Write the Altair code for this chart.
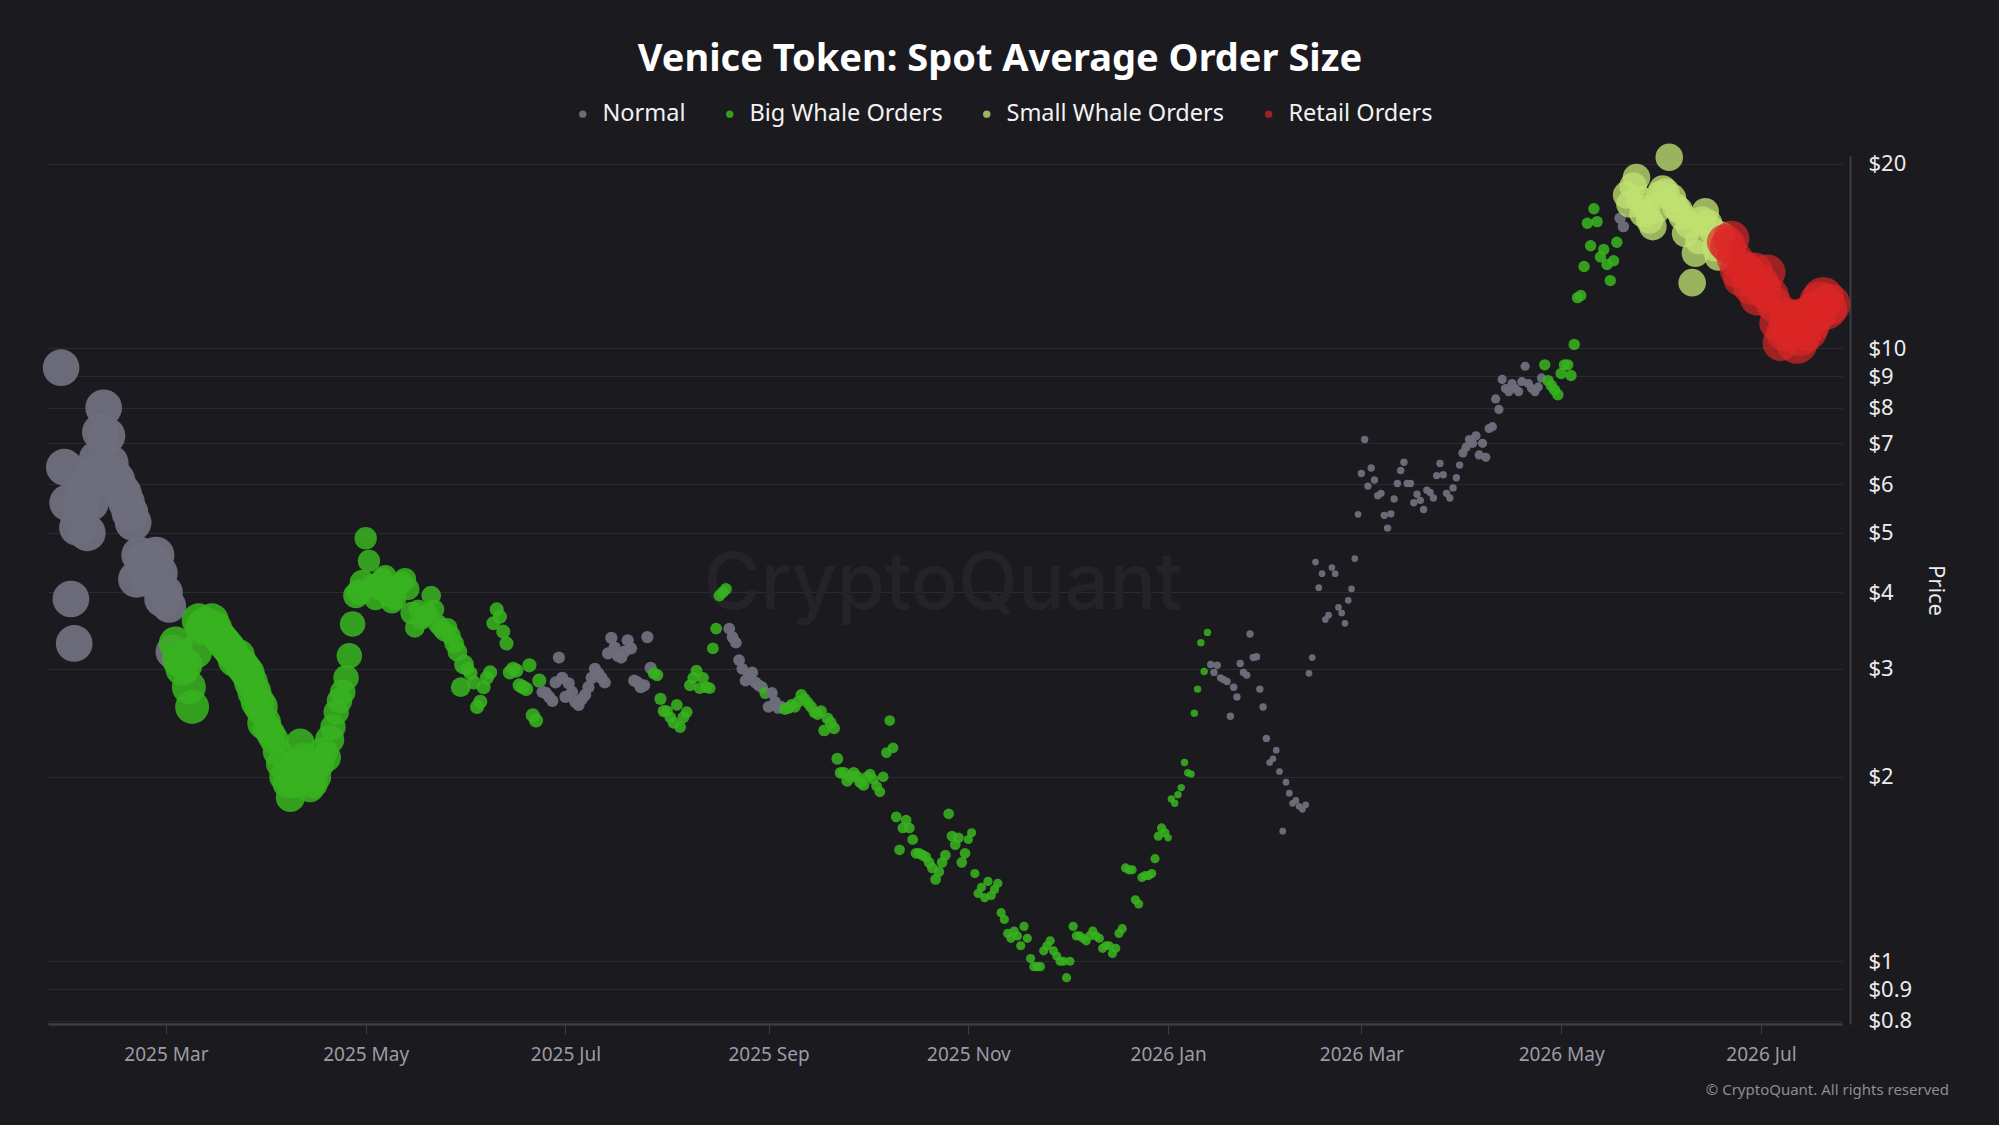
import altair as alt
import pandas as pd

START = "2025-01-28"

# daily prices (USD)
p_2025_01 = [9.3, 6.4, 5.6, 3.9]
p_2025_02 = [3.3, 5.1, 5.6, 5.9, 5.0, 5.6, 6.2, 6.6, 7.3, 8.0, 7.2, 6.5, 6.2, 6.1,
             5.9, 5.8, 5.6, 5.4, 5.2, 4.2, 4.6, 4.5, 4.3, 4.2, 4.5, 4.6, 4.3, 3.9]
p_2025_03 = [4.0, 3.8, 3.2, 3.3, 3.1, 3.0, 3.05, 2.8, 2.6, 3.2, 3.6, 3.5, 3.55, 3.5,
             3.6, 3.5, 3.4, 3.35, 3.3, 3.25, 3.2, 3.1, 3.15, 3.05, 3.0, 2.95, 2.85,
             2.75, 2.65, 2.6, 2.45]
p_2025_04 = [2.4, 2.35, 2.3, 2.2, 2.1, 2.0, 1.95, 1.85, 1.95, 2.1, 2.27, 2.15, 2.05,
             1.92, 1.95, 2.0, 2.1, 2.2, 2.15, 2.3, 2.41, 2.55, 2.66, 2.75, 2.9, 3.15,
             3.55, 3.95, 4.0, 4.15]
p_2025_05 = [4.9, 4.5, 4.1, 3.9, 4.05, 4.2, 4.25, 3.95, 3.85, 3.9, 4.1, 4.15, 4.2,
             4.05, 3.7, 3.5, 3.75, 3.6, 3.65, 3.7, 3.95, 3.75, 3.55, 3.5, 3.45, 3.5,
             3.4, 3.3, 3.2, 2.8, 3.05]
p_2025_06 = [3.0, 2.95, 2.85, 2.6, 2.65, 2.8, 2.9, 2.96, 3.56, 3.75, 3.65, 3.45, 3.3,
             2.96, 3.0, 2.98, 2.82, 2.8, 2.78, 3.04, 2.52, 2.47, 2.87, 2.75, 2.74, 2.7,
             2.66, 2.85, 3.13, 2.9]
p_2025_07 = [2.7, 2.84, 2.75, 2.65, 2.62, 2.68, 2.72, 2.8, 2.9, 3.0, 2.95, 2.9, 2.85,
             3.18, 3.37, 3.25, 3.15, 3.13, 3.2, 3.34, 3.24, 2.87, 2.85, 2.8, 2.82, 3.38,
             3.01, 2.95, 2.93, 2.68, 2.56]
p_2025_08 = [2.56, 2.5, 2.45, 2.62, 2.41, 2.5, 2.55, 2.82, 2.9, 2.98, 2.79, 2.9, 2.8,
             2.79, 3.24, 3.49, 3.95, 4.0, 4.05, 3.49, 3.38, 3.31, 3.1, 3.0, 2.87, 2.92,
             2.96, 2.85, 2.82, 2.8, 2.74]
p_2025_09 = [2.6, 2.74, 2.65, 2.59, 2.6, 2.58, 2.59, 2.62, 2.6, 2.65, 2.72, 2.68, 2.64,
             2.6, 2.55, 2.53, 2.56, 2.38, 2.49, 2.45, 2.4, 2.14, 2.03, 2.03, 1.97, 2.0,
             2.03, 2.0, 1.96, 1.94]
p_2025_10 = [2.0, 2.02, 1.98, 1.93, 1.89, 2.0, 2.19, 2.47, 2.23, 1.72, 1.52, 1.65, 1.7,
             1.65, 1.58, 1.5, 1.5, 1.49, 1.48, 1.45, 1.42, 1.36, 1.4, 1.45, 1.49, 1.74,
             1.6, 1.55, 1.59, 1.45, 1.5]
p_2025_11 = [1.58, 1.62, 1.39, 1.29, 1.32, 1.27, 1.35, 1.28, 1.31, 1.34, 1.2, 1.17,
             1.11, 1.09, 1.12, 1.1, 1.06, 1.14, 1.09, 1.01, 0.98, 0.98, 0.98, 1.04,
             1.06, 1.08, 1.04, 1.02, 1.0, 1.0]
p_2025_12 = [0.94, 1.0, 1.14, 1.1, 1.1, 1.09, 1.08, 1.1, 1.12, 1.1, 1.09, 1.05, 1.06,
             1.06, 1.03, 1.05, 1.11, 1.13, 1.42, 1.41, 1.41, 1.26, 1.24, 1.37, 1.38,
             1.38, 1.39, 1.47, 1.6, 1.65, 1.62]
p_2026_01 = [1.59, 1.84, 1.81, 1.87, 1.92, 2.11, 2.03, 2.02, 2.54, 2.78, 3.31, 2.97,
             3.44, 3.05, 2.96, 3.04, 2.9, 2.88, 2.86, 2.51, 2.8, 2.7, 3.06, 2.96, 2.93,
             3.42, 3.13, 3.14, 2.78, 2.6, 2.31]
p_2026_02 = [2.11, 2.14, 2.21, 2.04, 1.63, 1.96, 1.88, 1.81, 1.83, 1.79, 1.77, 1.8,
             2.95, 3.13, 4.48, 4.07, 4.29, 3.61, 3.67, 4.39, 4.29, 3.78, 3.7, 3.56,
             3.88, 4.05, 4.54, 5.36]
p_2026_03 = [6.25, 7.1, 5.96, 6.38, 6.1, 5.75, 5.8, 5.34, 5.09, 5.37, 5.68, 6.02, 6.32,
             6.52, 6.02, 6.02, 5.6, 5.78, 5.65, 5.46, 5.87, 5.82, 5.7, 6.2, 6.49, 6.22,
             5.8, 5.7, 5.92, 6.15, 6.45]
p_2026_04 = [6.75, 6.9, 7.1, 7.0, 7.2, 6.7, 7.0, 6.64, 7.4, 7.45, 8.27, 7.95, 8.9, 8.6,
             8.5, 8.76, 8.6, 8.5, 8.83, 9.35, 8.76, 8.6, 8.5, 8.65, 8.95, 9.4, 8.86,
             8.7, 8.55, 8.4]
p_2026_05 = [9.1, 9.4, 9.4, 9.03, 10.15, 12.1, 12.2, 13.6, 16.0, 14.7, 16.9, 16.1,
             14.1, 14.5, 13.7, 12.9, 13.9, 14.9, 16.3, 15.8, 17.8, 17.2, 18.4, 19.0,
             17.5, 16.6, 16.9, 16.2, 15.8, 16.8, 17.8]
p_2026_06 = [18.2, 18.0, 20.5, 17.6, 17.0, 16.8, 16.4, 15.4, 15.9, 12.8, 14.3, 15.0,
             16.2, 16.7, 16.0, 15.6, 14.6, 14.1, 15.3, 14.9, 14.7, 15.1, 14.0, 13.4,
             13.0, 13.5, 13.3, 12.6, 13.4, 12.1]
p_2026_07 = [12.8, 12.4, 13.3, 12.2, 11.8, 11.0, 10.2, 10.6, 11.3, 10.8, 11.1, 10.2,
             10.5, 11.2, 10.7, 11.0, 11.4, 11.5, 11.9, 12.1, 11.6, 11.8]

# category of each day, as consecutive runs (label, number of days)
group_runs = [
    ("Normal", 35), ("Big Whale Orders", 112), ("Normal", 34),
    ("Big Whale Orders", 23), ("Normal", 11), ("Big Whale Orders", 1),
    ("Normal", 5), ("Big Whale Orders", 130), ("Normal", 102),
    ("Big Whale Orders", 23), ("Normal", 2), ("Small Whale Orders", 30),
    ("Retail Orders", 33),
]

# bubble area (px^2) as consecutive runs (area, number of days)
size_runs = [
    (1350, 32), (1150, 3), (1150, 28), (850, 20), (650, 10), (500, 15), (390, 16),
    (200, 23), (150, 38), (140, 61), (115, 31), (85, 61), (55, 31), (45, 28),
    (55, 31), (85, 25), (130, 25), (760, 30), (1300, 20), (1700, 13),
]

categories = ["Normal", "Big Whale Orders", "Small Whale Orders", "Retail Orders"]
cat_colors = ["#6d6d7c", "#38b220", "#c0e070", "#dc2626"]
cat_opacity = [0.97, 0.68, 0.65, 0.75]

y_ticks = [0.8, 0.9, 1, 2, 3, 4, 5, 6, 7, 8, 9, 10, 20]

prices = (p_2025_01 + p_2025_02 + p_2025_03 + p_2025_04 + p_2025_05 + p_2025_06 +
          p_2025_07 + p_2025_08 + p_2025_09 + p_2025_10 + p_2025_11 + p_2025_12 +
          p_2026_01 + p_2026_02 + p_2026_03 + p_2026_04 + p_2026_05 + p_2026_06 +
          p_2026_07)
groups = [g for g, n in group_runs for _ in range(n)]
sizes = [s for s, n in size_runs for _ in range(n)]
n = min(len(prices), len(groups), len(sizes))
dates = pd.date_range(START, periods=n, freq="D")
df = pd.DataFrame({"date": dates, "price": prices[:n], "group": groups[:n], "size": sizes[:n]})

FONT = "Noto Sans"
BG = "#1a1a1f"

month_ticks = [
    alt.DateTime(year=2025, month=3, date=1), alt.DateTime(year=2025, month=5, date=1),
    alt.DateTime(year=2025, month=7, date=1), alt.DateTime(year=2025, month=9, date=1),
    alt.DateTime(year=2025, month=11, date=1), alt.DateTime(year=2026, month=1, date=1),
    alt.DateTime(year=2026, month=3, date=1), alt.DateTime(year=2026, month=5, date=1),
    alt.DateTime(year=2026, month=7, date=1),
]

legend = alt.Legend(
    title=None, orient="none", legendX=523, legendY=-54, direction="horizontal",
    symbolType="circle", symbolSize=55, labelFontSize=23.5, labelColor="#f2f2f2",
    labelFont=FONT, columnPadding=32, labelOffset=8, symbolStrokeWidth=0,
    labelLimit=400,
)

points = alt.Chart(df).mark_circle().encode(
    x=alt.X(
        "date:T",
        scale=alt.Scale(domain=[alt.DateTime(year=2025, month=1, date=24),
                                alt.DateTime(year=2026, month=7, date=25, hours=18)]),
        axis=alt.Axis(
            values=month_ticks, format="%Y %b", title=None, grid=False,
            domainColor="#3d3d45", domainWidth=2.5, tickColor="#3d3d45", tickSize=10,
            labelColor="#9c9ca6", labelFontSize=19, labelFont=FONT, labelPadding=11,
        ),
    ),
    y=alt.Y(
        "price:Q",
        scale=alt.Scale(type="log", domain=[0.79, 20.6], nice=False),
        axis=alt.Axis(
            orient="right", values=y_ticks, labelExpr="'$' + datum.value",
            grid=True, gridColor="#2a2a31", gridWidth=1, ticks=False,
            domainColor="#3d3d45", domainWidth=2, offset=8,
            labelColor="#ececec", labelFontSize=22, labelFont=FONT, labelPadding=18,
            title="Price", titleAngle=90, titleColor="#ececec", titleFontSize=22,
            titleFont=FONT, titleFontWeight="normal", titlePadding=12,
        ),
    ),
    color=alt.Color("group:N", scale=alt.Scale(domain=categories, range=cat_colors),
                    legend=legend),
    opacity=alt.Opacity("group:N", scale=alt.Scale(domain=categories, range=cat_opacity),
                        legend=legend),
    size=alt.Size("size:Q", scale=None, legend=None),
)

notes = pd.DataFrame({"t": ["CryptoQuant"]})
watermark = alt.Chart(notes).mark_text(
    font="Inter", fontSize=78, fontWeight=500, color="#232328", align="center",
    baseline="middle",
).encode(text="t:N", x=alt.value(895), y=alt.value(430))

copyright_df = pd.DataFrame({"t": ["\u00a9 CryptoQuant. All rights reserved"]})
copyright_txt = alt.Chart(copyright_df).mark_text(
    font=FONT, fontSize=15, color="#8d8d95", align="right", baseline="middle",
).encode(text="t:N", x=alt.value(1901), y=alt.value(934))

chart = alt.layer(watermark, points, copyright_txt).properties(
    width=1794, height=868,
    title=alt.TitleParams(
        "Venice Token: Spot Average Order Size", font=FONT, fontSize=38,
        fontWeight="bold", color="#ffffff", anchor="middle", frame="group",
        offset=23, dx=55,
    ),
    background=BG,
    padding={"left": 48, "top": 156, "right": 157, "bottom": 101},
    autosize=alt.AutoSizeParams(type="none"),
).configure_view(stroke=None)

chart.save("out.html", embed_options={"renderer": "svg", "actions": False})
